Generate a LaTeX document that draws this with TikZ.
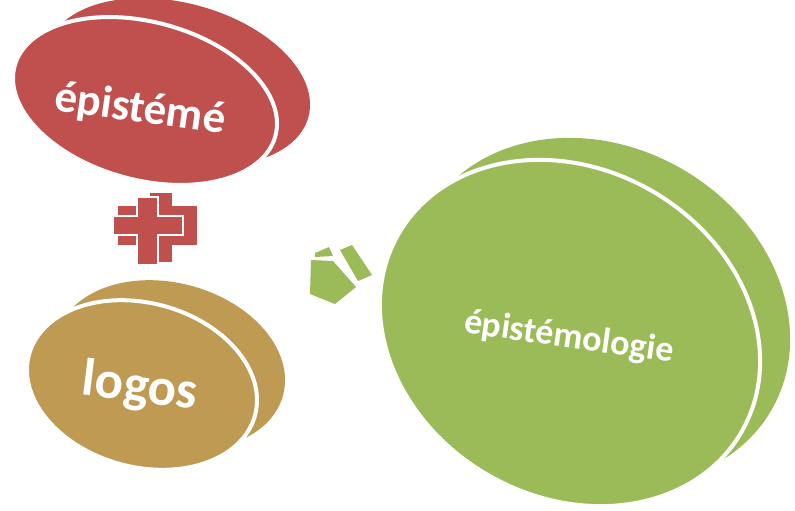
\documentclass[tikz,border=0pt]{standalone}
\usepackage{fontspec}
\setmainfont{Carlito}
\definecolor{redc}{HTML}{C0504D}
\definecolor{goldc}{HTML}{BE9A52}
\definecolor{greenc}{HTML}{9BBB59}
\begin{document}
\begin{tikzpicture}[x=1pt,y=-1pt,
  frontdisc/.style={draw=white,line width=4pt},
  lbl/.style={text=white,inner sep=0pt,font=\bfseries}]
\useasboundingbox (0,0) rectangle (795,511);
\clip (0,0) rectangle (795,511);
% red disc
\fill[redc,rotate around={-15:(178,82)}] (178,82) ellipse [x radius=135,y radius=79];
\path[fill=redc,frontdisc,rotate around={-15:(145,101)}] (145,101) ellipse [x radius=135,y radius=79];
\node[lbl,rotate=-8] (t1) at (140,110) {\fontsize{45}{54}\selectfont épistémé};
% plus
\fill[redc] (150,193) rectangle (172,262);
\fill[redc] (118,206) rectangle (197,245);
\path[fill=redc,draw=white,line width=2.5pt] (137,197) -- (158,197) -- (158,216) -- (183,216) -- (183,235) -- (158,235) -- (158,265) -- (137,265) -- (137,235) -- (113,235) -- (113,216) -- (137,216) -- cycle;
% gold disc
\fill[goldc,rotate around={-15:(170,365)}] (170,365) ellipse [x radius=117,y radius=82];
\path[fill=goldc,frontdisc,rotate around={-15:(142,385)}] (142,385) ellipse [x radius=117,y radius=82];
\node[lbl,rotate=-7] (t2) at (140,388) {\fontsize{53}{60}\selectfont logos};
% arrow
\fill[greenc] (311,260) -- (333,261) -- (356,287) -- (335,304) -- (310,294) -- cycle;
\fill[greenc] (340,250) -- (352,245) -- (372,275) -- (358,281) -- cycle;
\fill[greenc] (315,253) -- (329,247) -- (333,256) -- (315,257) -- cycle;
% green disc
\fill[greenc,rotate around={-30:(600,311)}] (600,311) ellipse [x radius=198,y radius=164];
\path[fill=greenc,frontdisc,rotate around={-30:(570,333)}] (570,333) ellipse [x radius=198,y radius=164];
\node[lbl,rotate=-8] (t3) at (569,338) {\fontsize{36}{44}\selectfont épistémologie};
\end{tikzpicture}
\end{document}
